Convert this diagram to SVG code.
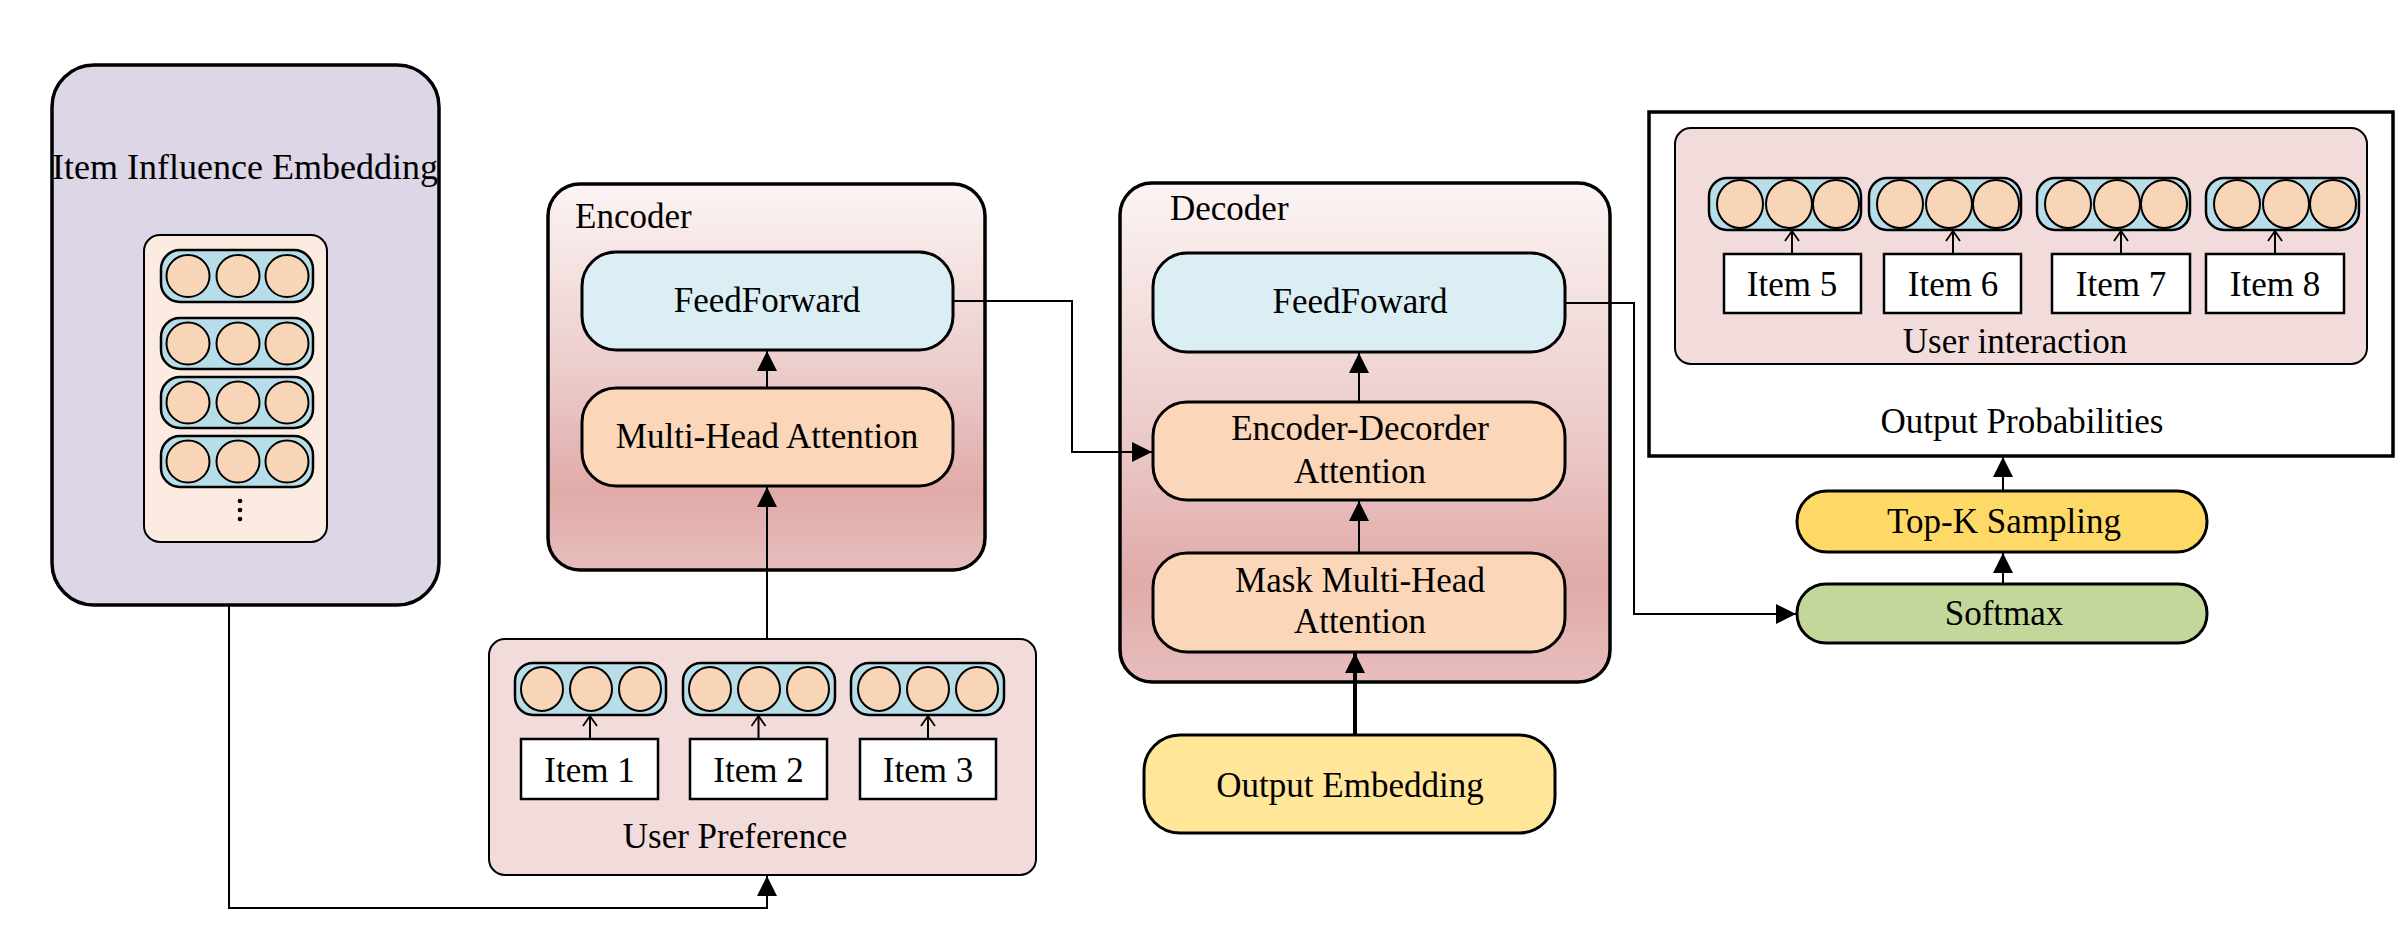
<svg xmlns="http://www.w3.org/2000/svg" width="2401" height="931" viewBox="0 0 2401 931">
<defs>
<linearGradient id="gEnc" x1="0" y1="0" x2="0" y2="1">
<stop offset="0" stop-color="#FBF4F3"/>
<stop offset="0.5" stop-color="#EBCBCA"/>
<stop offset="0.8" stop-color="#E0AAA8"/>
<stop offset="1" stop-color="#E7BEBC"/>
</linearGradient>
<marker id="ah" viewBox="0 0 20 20" refX="20" refY="10" markerWidth="20" markerHeight="20" markerUnits="userSpaceOnUse" orient="auto">
<path d="M0,0 L20,10 L0,20 Z" fill="#000"/>
</marker>
<marker id="ahs" viewBox="0 0 12 16" refX="11" refY="8" markerWidth="12" markerHeight="16" markerUnits="userSpaceOnUse" orient="auto">
<path d="M1,1 L11,8 L1,15" fill="none" stroke="#000" stroke-width="1.8"/>
</marker>
</defs>
<style>
text{font-family:"Liberation Serif","Times New Roman",serif;font-size:35px;fill:#000}
.c{text-anchor:middle}
.big{stroke:#000;stroke-width:3.5}
.blk{stroke:#000;stroke-width:3}
.thin{stroke:#000;stroke-width:2}
.pill{fill:#B7DDE8;stroke:#000;stroke-width:2.5}
.dot{fill:#F9D5B8;stroke:#000;stroke-width:2}
.item{fill:#fff;stroke:#000;stroke-width:2.5}
.ff{fill:#DAEEF3}
.att{fill:#FBD6B8}
.ln{fill:none;stroke:#000;stroke-width:2}
</style>
<rect width="2401" height="931" fill="#fff"/>

<g id="item-influence">
<rect x="52" y="65" width="387" height="540" rx="42" fill="#DCD6E6" class="big"/>
<text x="245" y="179" class="c" style="font-size:36px">Item Influence Embedding</text>
<rect x="144" y="235" width="183" height="307" rx="16" fill="#FCEBE0" class="thin"/>
<rect x="161" y="250" width="152" height="52" rx="19" class="pill"/>
<ellipse cx="188" cy="276" rx="21.5" ry="21" class="dot"/><ellipse cx="238" cy="276" rx="21.5" ry="21" class="dot"/><ellipse cx="287" cy="276" rx="21.5" ry="21" class="dot"/>
<rect x="161" y="318" width="152" height="51" rx="19" class="pill"/>
<ellipse cx="188" cy="343.5" rx="21.5" ry="21" class="dot"/><ellipse cx="238" cy="343.5" rx="21.5" ry="21" class="dot"/><ellipse cx="287" cy="343.5" rx="21.5" ry="21" class="dot"/>
<rect x="161" y="377" width="152" height="51" rx="19" class="pill"/>
<ellipse cx="188" cy="402.5" rx="21.5" ry="21" class="dot"/><ellipse cx="238" cy="402.5" rx="21.5" ry="21" class="dot"/><ellipse cx="287" cy="402.5" rx="21.5" ry="21" class="dot"/>
<rect x="161" y="436" width="152" height="51" rx="19" class="pill"/>
<ellipse cx="188" cy="461.5" rx="21.5" ry="21" class="dot"/><ellipse cx="238" cy="461.5" rx="21.5" ry="21" class="dot"/><ellipse cx="287" cy="461.5" rx="21.5" ry="21" class="dot"/>
<circle cx="240" cy="501" r="2.3"/><circle cx="240" cy="510" r="2.3"/><circle cx="240" cy="519" r="2.3"/>
</g>

<g id="encoder">
<rect x="548" y="184" width="437" height="386" rx="32" fill="url(#gEnc)" class="big"/>
<text x="575" y="228">Encoder</text>
</g>
<g id="enc-feedforward">
<rect x="582" y="252" width="371" height="98" rx="34" class="ff blk"/>
<text x="767" y="312" class="c">FeedForward</text>
</g>
<g id="enc-mha">
<rect x="582" y="388" width="371" height="98" rx="34" class="att blk"/>
<text x="767" y="448" class="c">Multi-Head Attention</text>
</g>

<g id="user-preference">
<rect x="489" y="639" width="547" height="236" rx="16" fill="#F2DCDB" class="thin"/>
<rect x="515" y="663" width="151" height="52" rx="18" class="pill"/>
<ellipse cx="542" cy="689" rx="21" ry="22" class="dot"/><ellipse cx="591" cy="689" rx="21" ry="22" class="dot"/><ellipse cx="640" cy="689" rx="21" ry="22" class="dot"/>
<rect x="683" y="663" width="152" height="52" rx="18" class="pill"/>
<ellipse cx="710" cy="689" rx="21" ry="22" class="dot"/><ellipse cx="759" cy="689" rx="21" ry="22" class="dot"/><ellipse cx="808" cy="689" rx="21" ry="22" class="dot"/>
<rect x="851" y="663" width="153" height="52" rx="18" class="pill"/>
<ellipse cx="879" cy="689" rx="21" ry="22" class="dot"/><ellipse cx="928" cy="689" rx="21" ry="22" class="dot"/><ellipse cx="977" cy="689" rx="21" ry="22" class="dot"/>
<rect x="521" y="739" width="137" height="60" class="item"/>
<text x="589.5" y="782" class="c">Item 1</text>
<rect x="690" y="739" width="137" height="60" class="item"/>
<text x="758.5" y="782" class="c">Item 2</text>
<rect x="860" y="739" width="136" height="60" class="item"/>
<text x="928" y="782" class="c">Item 3</text>
<line x1="590" y1="739" x2="590" y2="716" class="ln" marker-end="url(#ahs)"/>
<line x1="758.5" y1="739" x2="758.5" y2="716" class="ln" marker-end="url(#ahs)"/>
<line x1="928" y1="739" x2="928" y2="716" class="ln" marker-end="url(#ahs)"/>
<text x="735" y="848" class="c">User Preference</text>
</g>

<g id="decoder">
<rect x="1120" y="183" width="490" height="499" rx="32" fill="url(#gEnc)" class="big"/>
<text x="1170" y="220">Decoder</text>
</g>
<g id="dec-feedfoward">
<rect x="1153" y="253" width="412" height="99" rx="34" class="ff blk"/>
<text x="1360" y="313" class="c">FeedFoward</text>
</g>
<g id="dec-encdec-attention">
<rect x="1153" y="402" width="412" height="98" rx="34" class="att blk"/>
<text x="1360" y="440" class="c">Encoder-Decorder</text>
<text x="1360" y="483" class="c">Attention</text>
</g>
<g id="dec-mask-mha">
<rect x="1153" y="553" width="412" height="99" rx="34" class="att blk"/>
<text x="1360" y="592" class="c">Mask Multi-Head</text>
<text x="1360" y="633" class="c">Attention</text>
</g>

<g id="output-embedding">
<rect x="1144" y="735" width="411" height="98" rx="36" fill="#FFE699" class="blk"/>
<text x="1350" y="797" class="c">Output Embedding</text>
</g>

<g id="output-probabilities">
<rect x="1649" y="112" width="744" height="344" fill="#fff" class="big"/>
<rect x="1675" y="128" width="692" height="236" rx="16" fill="#F2DCDB" class="thin"/>
<rect x="1709" y="178" width="152" height="52" rx="18" class="pill"/>
<ellipse cx="1740" cy="204" rx="23" ry="24" class="dot"/><ellipse cx="1789" cy="204" rx="23" ry="24" class="dot"/><ellipse cx="1836" cy="204" rx="23" ry="24" class="dot"/>
<rect x="1869" y="178" width="152" height="52" rx="18" class="pill"/>
<ellipse cx="1900" cy="204" rx="23" ry="24" class="dot"/><ellipse cx="1949" cy="204" rx="23" ry="24" class="dot"/><ellipse cx="1996" cy="204" rx="23" ry="24" class="dot"/>
<rect x="2037" y="178" width="153" height="52" rx="18" class="pill"/>
<ellipse cx="2068" cy="204" rx="23" ry="24" class="dot"/><ellipse cx="2117" cy="204" rx="23" ry="24" class="dot"/><ellipse cx="2164" cy="204" rx="23" ry="24" class="dot"/>
<rect x="2206" y="178" width="153" height="52" rx="18" class="pill"/>
<ellipse cx="2237" cy="204" rx="23" ry="24" class="dot"/><ellipse cx="2286" cy="204" rx="23" ry="24" class="dot"/><ellipse cx="2333" cy="204" rx="23" ry="24" class="dot"/>
<rect x="1724" y="254" width="137" height="59" class="item"/>
<text x="1792" y="296" class="c">Item 5</text>
<rect x="1884" y="254" width="137" height="59" class="item"/>
<text x="1953" y="296" class="c">Item 6</text>
<rect x="2052" y="254" width="138" height="59" class="item"/>
<text x="2121" y="296" class="c">Item 7</text>
<rect x="2206" y="254" width="138" height="59" class="item"/>
<text x="2275" y="296" class="c">Item 8</text>
<line x1="1792" y1="254" x2="1792" y2="231" class="ln" marker-end="url(#ahs)"/>
<line x1="1953" y1="254" x2="1953" y2="231" class="ln" marker-end="url(#ahs)"/>
<line x1="2121" y1="254" x2="2121" y2="231" class="ln" marker-end="url(#ahs)"/>
<line x1="2275" y1="254" x2="2275" y2="231" class="ln" marker-end="url(#ahs)"/>
<text x="2015" y="353" class="c">User interaction</text>
<text x="2022" y="433" class="c">Output Probabilities</text>
</g>

<g id="top-k-sampling">
<rect x="1797" y="491" width="410" height="61" rx="30" fill="#FFD966" class="blk"/>
<text x="2004" y="533" class="c">Top-K Sampling</text>
</g>
<g id="softmax">
<rect x="1797" y="584" width="410" height="59" rx="29" fill="#C4D79B" class="blk"/>
<text x="2004" y="625" class="c">Softmax</text>
</g>

<g id="connectors">
<path d="M229,605 V908 H767 V876" class="ln" marker-end="url(#ah)"/>
<path d="M767,639 V487" class="ln" marker-end="url(#ah)"/>
<path d="M767,388 V351" class="ln" marker-end="url(#ah)"/>
<path d="M953,301 H1072 V452 H1152" class="ln" marker-end="url(#ah)"/>
<path d="M1359,402 V353" class="ln" marker-end="url(#ah)"/>
<path d="M1359,553 V501" class="ln" marker-end="url(#ah)"/>
<path d="M1355,735 V653" fill="none" stroke="#000" stroke-width="4" marker-end="url(#ah)"/>
<path d="M1565,303 H1634 V614 H1796" class="ln" marker-end="url(#ah)"/>
<path d="M2003,584 V553" class="ln" marker-end="url(#ah)"/>
<path d="M2003,491 V457" class="ln" marker-end="url(#ah)"/>
</g>
</svg>
